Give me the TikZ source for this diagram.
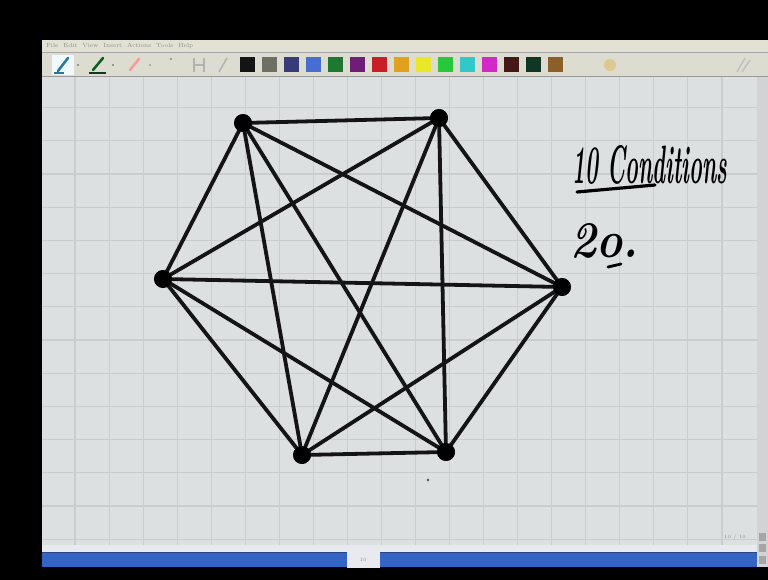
\documentclass[tikz,border=0pt]{standalone}
\usepackage{graphicx}
\definecolor{canvasbg}{RGB}{221,224,225}
\definecolor{gridc}{RGB}{202,205,206}
\definecolor{menubg}{RGB}{226,225,212}
\definecolor{toolbg}{RGB}{220,220,208}
\definecolor{stripbg}{RGB}{232,234,240}
\definecolor{bluebar}{RGB}{52,100,196}
\definecolor{scrollbg}{RGB}{210,212,212}
\definecolor{cBlack}{RGB}{20,20,20}
\definecolor{cGrey}{RGB}{110,110,100}
\definecolor{cNavy}{RGB}{55,60,120}
\definecolor{cBlue}{RGB}{70,110,210}
\definecolor{cGreen}{RGB}{30,120,50}
\definecolor{cPurple}{RGB}{110,30,120}
\definecolor{cRed}{RGB}{200,30,40}
\definecolor{cOrange}{RGB}{225,160,30}
\definecolor{cYellow}{RGB}{235,230,40}
\definecolor{cLGreen}{RGB}{40,200,60}
\definecolor{cCyan}{RGB}{50,200,200}
\definecolor{cMagenta}{RGB}{210,40,200}
\definecolor{cDBrown}{RGB}{70,25,25}
\definecolor{cDGreen}{RGB}{15,55,35}
\definecolor{cBrown}{RGB}{140,95,40}
\tikzset{
  vtx/.style={circle,fill=black,draw=black,minimum size=17pt,inner sep=0pt},
  edge/.style={line width=3.8pt,black!92,line cap=round},
  gridline/.style={gridc,line width=1.1pt},
  swatch/.style={minimum width=15pt,minimum height=15pt,inner sep=0pt},
  hand/.style={inner sep=0pt,font=\bfseries\itshape},
  menutxt/.style={inner sep=0pt,font=\fontsize{6}{6}\selectfont,text=black!45}
}
\begin{document}
\begin{tikzpicture}[x=1pt,y=-1pt]
\useasboundingbox (0,0) rectangle (768,580);
\fill[black] (0,0) rectangle (768,580);
% window chrome
\fill[menubg] (42,40) rectangle (768,52);
\fill[toolbg] (42,52) rectangle (768,77);
\draw[black!35,line width=1pt] (42,52.5) -- (768,52.5);
\draw[black!40,line width=1.2pt] (42,76.5) -- (768,76.5);
\node[menutxt,anchor=west] (menu) at (46,46) {File\ \ Edit\ \ View\ \ Insert\ \ Actions\ \ Tools\ \ Help};
% canvas
\fill[canvasbg] (42,77.5) rectangle (757,545);
\foreach \k in {0,...,19} \draw[gridline] ({75+34.05*\k},77.5) -- ({75+34.05*\k},545);
\foreach \k in {0,...,13} \draw[gridline] (42,{107.6+33.2*\k}) -- (757,{107.6+33.2*\k});
\fill[scrollbg] (757,77.5) rectangle (768,567);
\fill[stripbg] (42,545) rectangle (757,552);
\fill[bluebar] (42,552) rectangle (757,567);
\draw[bluebar!70!black,line width=1pt] (42,552.5) -- (757,552.5);
\fill[stripbg] (347,548) rectangle (380,568);
\node[menutxt,font=\fontsize{5}{5}\selectfont] (pg) at (363,560) {10};
\node[menutxt,font=\fontsize{5}{5}\selectfont] (pgc) at (735,537) {10 / 10};
\foreach \yy in {537,548,560} \fill[black!35] (759,\yy-4) rectangle (766,\yy+4);
% toolbar pens and tools
\fill[white!70!cyan!20] (52,55) rectangle (74,75);
\draw[line width=2.5pt,cNavy!70!cyan,line cap=round] (58,71) -- (68,58);
\draw[line width=1.5pt,cNavy!70!cyan] (54,73) -- (64,73);
\fill[black!50] (78,65) circle (1.2pt);
\draw[line width=2.5pt,cDGreen!80!green,line cap=round] (93,70) -- (103,58);
\draw[line width=2pt,cDGreen] (89,73) -- (106,73);
\fill[black!50] (113,65) circle (1.2pt);
\draw[line width=2.5pt,red!40!white,line cap=round] (130,70) -- (139,59);
\fill[black!40] (150,65) circle (1.2pt);
\fill[black!45] (171,59) circle (1.2pt);
\draw[black!30,line width=1.5pt] (194,58) -- (194,72) (204,58) -- (204,72) (194,65) -- (204,65);
\draw[black!30,line width=1.5pt] (219,72) -- (227,58);
\foreach \c [count=\i from 0] in {cBlack,cGrey,cNavy,cBlue,cGreen,cPurple,cRed,cOrange,cYellow,cLGreen,cCyan,cMagenta,cDBrown,cDGreen,cBrown}
  \node[swatch,fill=\c] (sw\i) at ({247.5+22*\i},65) {};
\fill[cOrange!35!toolbg] (610,65) circle (6pt);
\draw[black!25,line width=1.5pt] (737,72) -- (745,58) (742,72) -- (750,60);
% graph K6
\node[vtx] (A) at (243,123) {};
\node[vtx] (B) at (439,118) {};
\node[vtx] (C) at (163,279) {};
\node[vtx] (D) at (562,287) {};
\node[vtx] (E) at (302,455) {};
\node[vtx] (F) at (446,452) {};
\foreach \u/\v in {A/B,A/C,A/D,A/E,A/F,B/C,B/D,B/E,B/F,C/D,C/E,C/F,D/E,D/F,E/F}
  \draw[edge] (\u.center) -- (\v.center);
\foreach \n in {A,B,C,D,E,F} \fill[black] (\n) circle (9pt);
\fill[black!70] (428,480) circle (1.3pt);
% handwritten notes
\node[hand,anchor=base west] (t1) at (572,183) {\resizebox{155pt}{38pt}{10 Conditions}};
\coordinate (u1a) at (577,192);
\coordinate (u1b) at (655,185);
\draw[line width=3.2pt,line cap=round] (u1a) -- (u1b);
\node[hand,anchor=base west] (t2) at (570,258) {\resizebox{68pt}{34pt}{2o.}};
\coordinate (u2a) at (608,267);
\coordinate (u2b) at (621,264);
\draw[line width=2.8pt,line cap=round] (u2a) -- (u2b);
\end{tikzpicture}
\end{document}
